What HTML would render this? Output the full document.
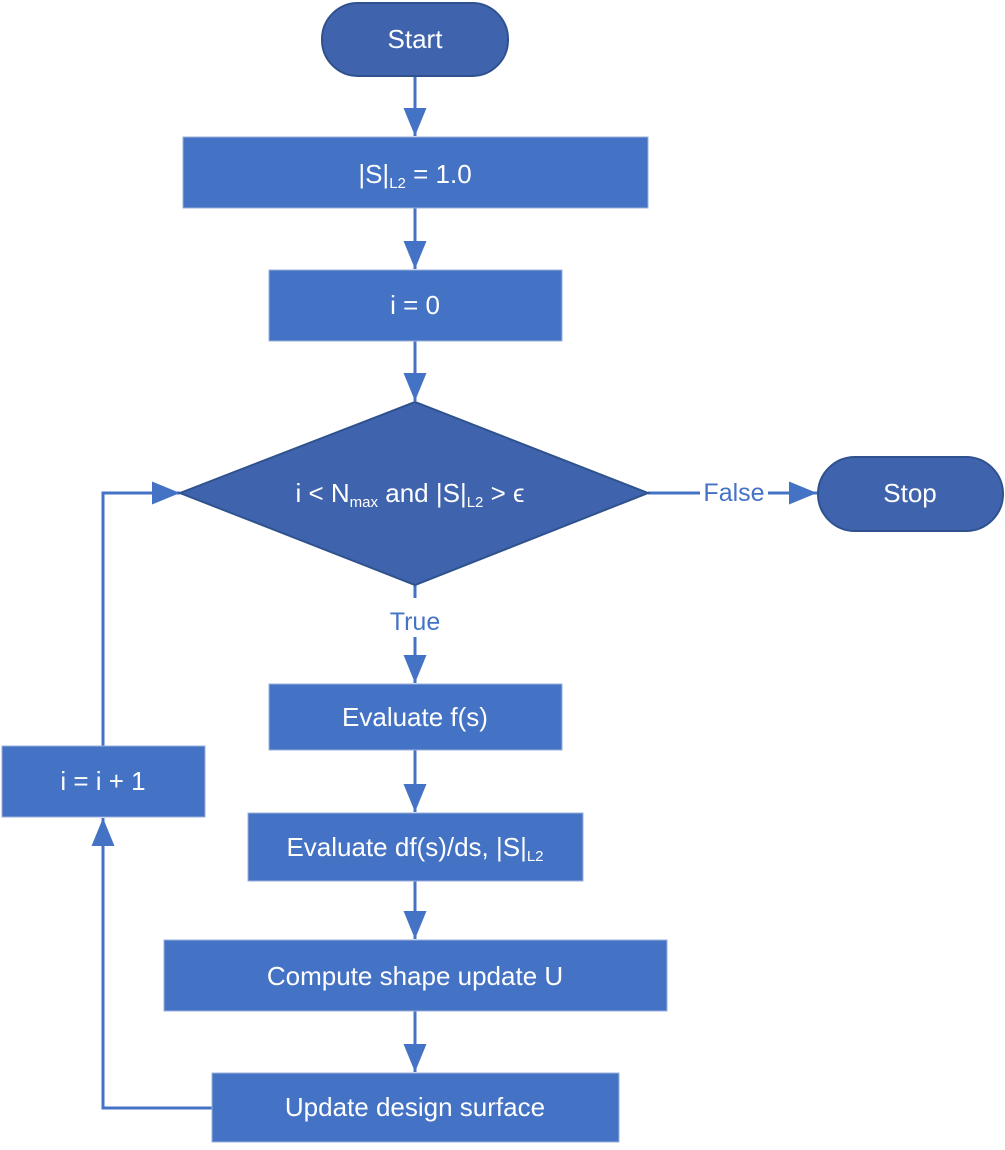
<!DOCTYPE html>
<html><head><style>body{margin:0;background:#fff}</style></head><body>
<svg width="1005" height="1145" xmlns="http://www.w3.org/2000/svg" font-family="'Liberation Sans', sans-serif">
<defs><marker id="a" markerWidth="28" markerHeight="24" refX="28" refY="12" orient="auto" markerUnits="userSpaceOnUse"><path d="M0,0.5 L28,12 L0,23.5 Z" fill="#4472C4"/></marker></defs>
<g stroke="#4472C4" stroke-width="3" fill="none">
<line x1="415" y1="76" x2="415" y2="136" marker-end="url(#a)"/>
<line x1="415" y1="208" x2="415" y2="269" marker-end="url(#a)"/>
<line x1="415" y1="341" x2="415" y2="401" marker-end="url(#a)"/>
<line x1="415" y1="585" x2="415" y2="598"/>
<line x1="415" y1="637" x2="415" y2="683" marker-end="url(#a)"/>
<line x1="415" y1="750" x2="415" y2="812" marker-end="url(#a)"/>
<line x1="415" y1="881" x2="415" y2="939" marker-end="url(#a)"/>
<line x1="415" y1="1011" x2="415" y2="1072" marker-end="url(#a)"/>
<line x1="648" y1="493" x2="700" y2="493"/>
<line x1="768" y1="493" x2="817" y2="493" marker-end="url(#a)"/>
<polyline points="212,1108 103,1108 103,818" marker-end="url(#a)"/>
<polyline points="103,746 103,493 180,493" marker-end="url(#a)"/>
</g>
<rect x="322" y="3" width="186" height="73" rx="36" fill="#3F64AD" stroke="#2F528F" stroke-width="2"/>
<rect x="818" y="457" width="185" height="74" rx="37" fill="#3F64AD" stroke="#2F528F" stroke-width="2"/>
<polygon points="180,493 415,402 648,493 415,585" fill="#3F64AD" stroke="#2F528F" stroke-width="2"/>
<g fill="#4472C4" stroke="#9DB0DA" stroke-width="1">
<rect x="183" y="137" width="465" height="71"/>
<rect x="269" y="270" width="293" height="71"/>
<rect x="269" y="684" width="293" height="66"/>
<rect x="248" y="813" width="335" height="68"/>
<rect x="164" y="940" width="503" height="71"/>
<rect x="212" y="1073" width="407" height="69"/>
<rect x="2" y="746" width="203" height="71"/>
</g>
<g fill="#fff" font-size="26" text-anchor="middle">
<text x="415" y="48">Start</text>
<text x="910" y="502">Stop</text>
<text x="415" y="183">|S|<tspan font-size="15" dy="5">L2</tspan><tspan dy="-5"> = 1.0</tspan></text>
<text x="415" y="314">i = 0</text>
<text x="410" y="502">i &lt; N<tspan font-size="15" dy="5">max</tspan><tspan dy="-5"> and |S|</tspan><tspan font-size="15" dy="5">L2</tspan><tspan dy="-5"> &gt; ϵ</tspan></text>
<text x="415" y="726">Evaluate f(s)</text>
<text x="415" y="856">Evaluate df(s)/ds, |S|<tspan font-size="15" dy="5">L2</tspan></text>
<text x="415" y="985">Compute shape update U</text>
<text x="415" y="1116">Update design surface</text>
<text x="103" y="790">i = i + 1</text>
</g>
<g fill="#4472C4" font-size="25" text-anchor="middle">
<text x="734" y="501">False</text>
<text x="415" y="630">True</text>
</g>
</svg>
</body></html>
